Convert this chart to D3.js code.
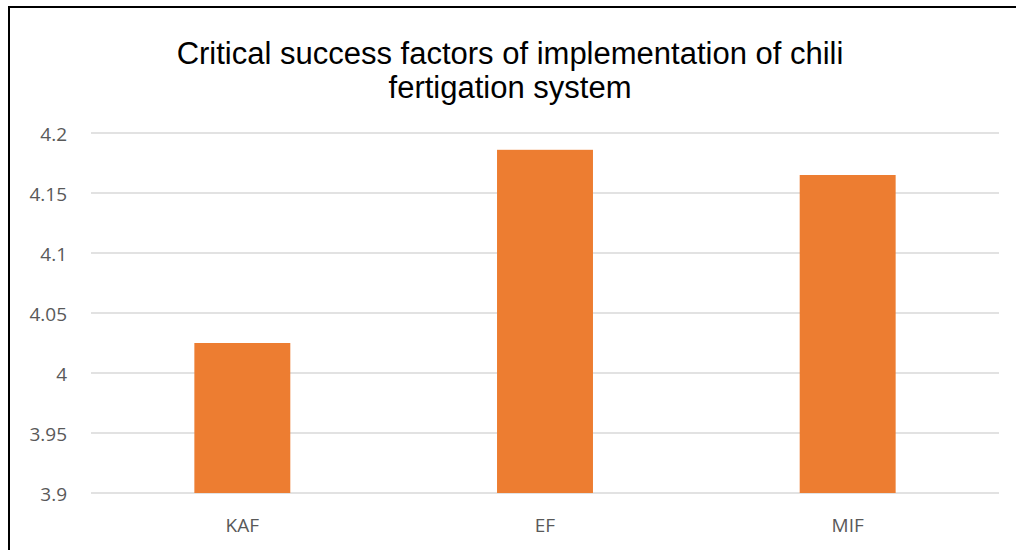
<!DOCTYPE html>
<html>
  <head>
    <meta charset="utf-8">
    <script src="https://cdn.jsdelivr.net/npm/d3@7/dist/d3.min.js"></script>
    <style>
      body { margin: 0; background: #fff; }
      .tick-label { font-family: "Open Sans", sans-serif; font-size: 19px; fill: #595959; }
      .title { font-family: "Liberation Sans", Arial, sans-serif; font-size: 31px; fill: #000; text-anchor: middle; }
      .grid line { stroke: #d9d9d9; stroke-width: 1.5px; }
    </style>
  </head>
  <body>
    <script>
      const categories = ['KAF', 'EF', 'MIF'];
      const values = [4.025, 4.186, 4.165];
      const yTicks = [3.9, 3.95, 4, 4.05, 4.1, 4.15, 4.2];
      const titleLines = ['Critical success factors of implementation of chili', 'fertigation system'];

      const width = 1016;
      const height = 550;
      const plot = {left: 91, right: 999, top: 133, bottom: 493};

      const svg = d3.select('body')
        .append('svg')
        .attr('width', width)
        .attr('height', height);

      // chart frame (only top and left edges visible in the picture)
      svg.append('path')
        .attr('d', `M9,${height} V7 H${width}`)
        .attr('fill', 'none')
        .attr('stroke', '#000')
        .attr('stroke-width', 2);

      svg.selectAll('.title').data(titleLines)
        .enter()
        .append('text')
        .classed('title', true)
        .attr('x', 510)
        .attr('y', (d, i) => 64 + i * 34)
        .text(d => d);

      const x = d3.scaleBand()
        .domain(categories)
        .range([plot.left, plot.right])
        .paddingInner(0.683)
        .paddingOuter(0.3415);

      const y = d3.scaleLinear()
        .domain([3.9, 4.2])
        .range([plot.bottom, plot.top]);

      svg.append('g')
        .classed('grid', true)
        .selectAll('line').data(yTicks)
        .enter()
        .append('line')
        .attr('x1', plot.left)
        .attr('x2', plot.right)
        .attr('y1', d => y(d))
        .attr('y2', d => y(d));

      svg.selectAll('.y-label').data(yTicks)
        .enter()
        .append('text')
        .classed('tick-label', true)
        .attr('x', 67)
        .attr('y', d => y(d) + 7.5)
        .attr('text-anchor', 'end')
        .text(d => d);

      svg.selectAll('.bar').data(values)
        .enter()
        .append('rect')
        .attr('x', (d, i) => x(categories[i]))
        .attr('y', d => y(d))
        .attr('width', x.bandwidth())
        .attr('height', d => y(3.9) - y(d))
        .attr('fill', '#ed7d31');

      svg.selectAll('.x-label').data(categories)
        .enter()
        .append('text')
        .classed('tick-label', true)
        .attr('x', d => x(d) + x.bandwidth() / 2)
        .attr('y', 532)
        .attr('text-anchor', 'middle')
        .text(d => d);
    </script>
  </body>
</html>
